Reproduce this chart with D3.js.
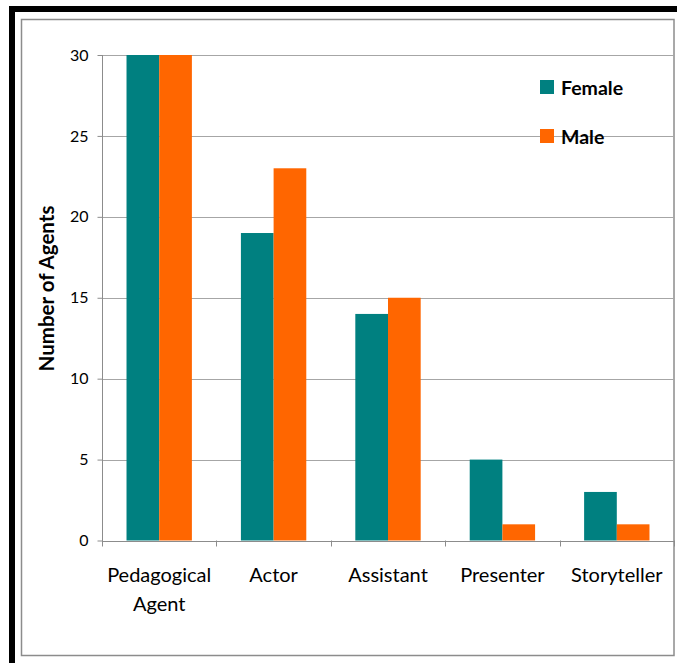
<!DOCTYPE html>
<html>
<head>
<meta charset="utf-8">
<script src="https://cdn.jsdelivr.net/npm/d3@7"></script>
<style>
  html, body { margin: 0; padding: 0; background: #fff; }
  svg { display: block; }
  text { font-family: Lato, "Open Sans", sans-serif; fill: #000; }
</style>
</head>
<body>
<svg id="chart" width="677" height="663"></svg>
<script>
// Agent roles and the count of female / male agents in each role
const categories = ["Pedagogical Agent", "Actor", "Assistant", "Presenter", "Storyteller"];
const categoryLines = [["Pedagogical", "Agent"], ["Actor"], ["Assistant"], ["Presenter"], ["Storyteller"]];
const series = ["Female", "Male"];
const female = [30, 19, 14, 5, 3];
const male = [30, 23, 15, 1, 1];
const yTicks = [0, 5, 10, 15, 20, 25, 30];
const colors = ["#008080", "#ff6600"];

const values = [female, male];
const rows = categories.map((c, i) => ({ cat: c, lines: categoryLines[i], vals: series.map((s, j) => ({ s, j, v: values[j][i] })) }));

const svg = d3.select("#chart");
const W = 677, H = 663;

svg.append("rect").attr("width", W).attr("height", H).attr("fill", "#fff");

// heavy black frame on the left and top edges
svg.append("rect").attr("x", 9).attr("y", 6).attr("width", 6).attr("height", H - 6).attr("fill", "#000");
svg.append("rect").attr("x", 9).attr("y", 6).attr("width", W - 9).attr("height", 6).attr("fill", "#000");

// thin grey chart frame
svg.append("rect").attr("x", 21.5).attr("y", 19.5).attr("width", 652.5).attr("height", 636)
  .attr("fill", "none").attr("stroke", "#8c8c8c").attr("stroke-width", 1.5);

const plot = { left: 102, right: 674, top: 55, bottom: 540.5 };

const x0 = d3.scaleBand().domain(categories).range([plot.left, plot.right]).padding(0);
const bw = x0.bandwidth();
const gap = bw * 1.5 / 3.5;
const x1 = d3.scaleBand().domain(series).range([gap / 2, bw - gap / 2]).padding(0);
const y = d3.scaleLinear().domain([0, 30]).range([plot.bottom, plot.top]);

// horizontal gridlines
svg.append("g").selectAll("line").data(yTicks.filter(t => t > 0)).join("line")
  .attr("x1", plot.left).attr("x2", plot.right)
  .attr("y1", d => Math.round(y(d)) + 0.5).attr("y2", d => Math.round(y(d)) + 0.5)
  .attr("stroke", "#a6a6a6").attr("stroke-width", 1);

// bars
const groups = svg.append("g").selectAll("g").data(rows).join("g")
  .attr("transform", d => `translate(${x0(d.cat)},0)`);
groups.selectAll("rect").data(d => d.vals).join("rect")
  .attr("x", d => x1(d.s))
  .attr("width", x1.bandwidth())
  .attr("y", d => y(d.v))
  .attr("height", d => y(0) - y(d.v))
  .attr("fill", d => colors[d.j]);

// y axis
const yAxis = svg.append("g").attr("transform", `translate(${plot.left + 0.5},0)`)
  .call(d3.axisLeft(y).tickValues(yTicks).tickSize(5).tickPadding(9).tickSizeOuter(0));
yAxis.select(".domain").attr("stroke", "#8c8c8c").attr("d", `M0,${plot.top}V${plot.bottom + 6}`);
yAxis.selectAll(".tick line").attr("stroke", "#8c8c8c");
yAxis.selectAll(".tick text").style("font-size", "16px").style("font-family", "Lato, sans-serif").attr("fill", "#000");

// x axis with ticks on category boundaries
const xAxisG = svg.append("g");
xAxisG.append("line").attr("x1", plot.left).attr("x2", plot.right)
  .attr("y1", Math.round(plot.bottom) + 0.5).attr("y2", Math.round(plot.bottom) + 0.5)
  .attr("stroke", "#8c8c8c");
const bounds = categories.map(c => x0(c)).concat([x0(categories[categories.length - 1]) + bw]);
xAxisG.selectAll("line.b").data(bounds.slice(1)).join("line").attr("class", "b")
  .attr("x1", d => Math.round(d) + 0.5).attr("x2", d => Math.round(d) + 0.5)
  .attr("y1", plot.bottom).attr("y2", plot.bottom + 6)
  .attr("stroke", "#8c8c8c");

// category labels
const labels = svg.append("g").selectAll("text").data(rows).join("text")
  .attr("text-anchor", "middle")
  .attr("x", d => x0(d.cat) + bw / 2)
  .attr("y", 582)
  .style("font-size", "20px");
labels.selectAll("tspan").data(d => d.lines).join("tspan")
  .attr("x", function () { return d3.select(this.parentNode).attr("x"); })
  .attr("dy", (d, i) => i === 0 ? 0 : 29)
  .text(d => d);

// y axis title
svg.append("text")
  .attr("transform", `translate(54,${(203 + 374) / 2}) rotate(-90)`)
  .attr("text-anchor", "middle")
  .style("font-size", "20.5px").style("font-weight", "bold")
  .text("Number of Agents");

// legend
const legend = svg.append("g").selectAll("g").data(series).join("g")
  .attr("transform", (d, i) => `translate(540,${80 + i * 49})`);
legend.append("rect").attr("width", 14).attr("height", 14).attr("fill", (d, i) => colors[i]);
legend.append("text").attr("x", 21).attr("y", 14.5)
  .style("font-size", "19.5px").style("font-weight", "bold").text(d => d);
</script>
</body>
</html>
